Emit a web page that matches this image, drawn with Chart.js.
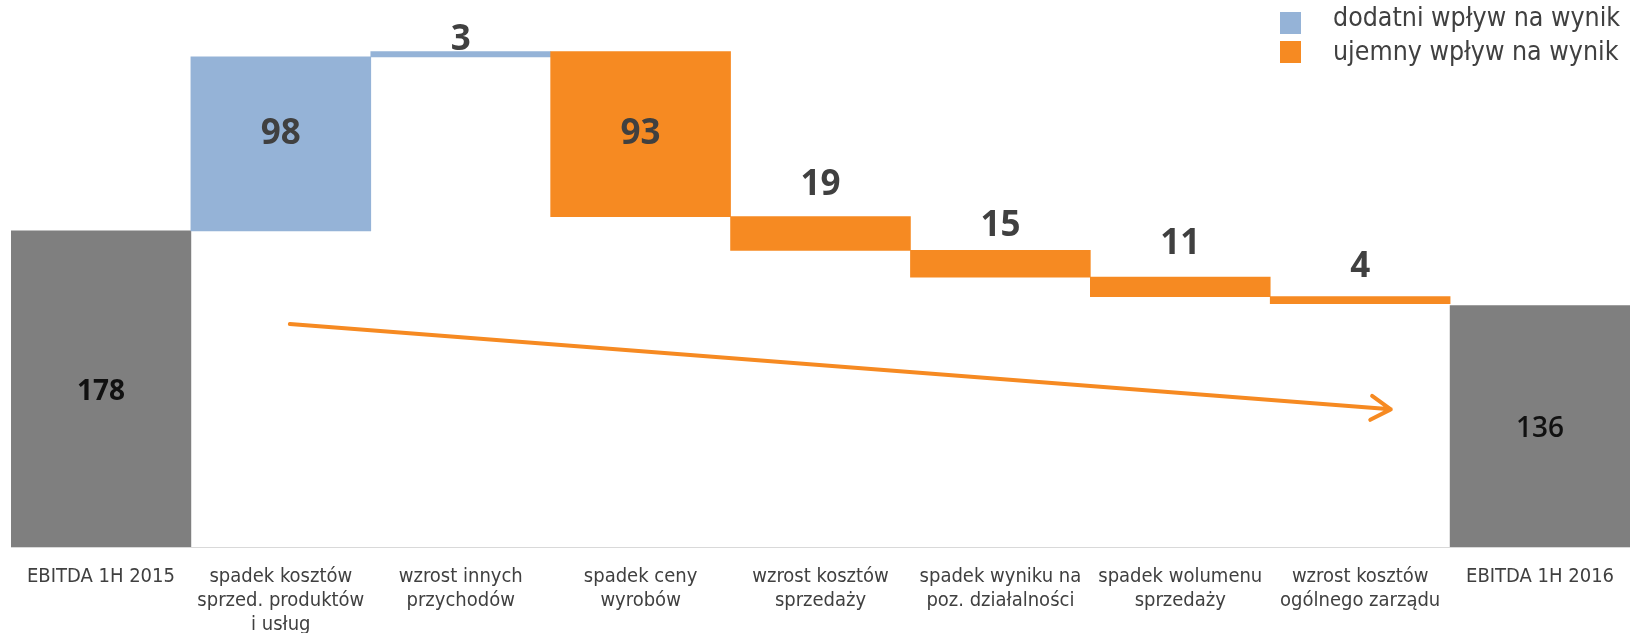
<!DOCTYPE html>
<html>
<head>
<meta charset="utf-8">
<script src="https://cdn.jsdelivr.net/npm/chart.js@4.4.1/dist/chart.umd.min.js"></script>
<style>
  html, body { margin: 0; padding: 0; background: #fff; }
  #wrap { position: relative; width: 1630px; height: 633px; }
  .sw { position: absolute; left: 1280px; width: 21px; height: 22px; }
  .txt {
    position: absolute; left: 1333px; white-space: nowrap;
    font-family: 'DejaVu Sans Condensed', 'DejaVu Sans', sans-serif;
    font-size: 26.5px; line-height: 30px; color: #404040;
  }
</style>
</head>
<body>
<div id="wrap">
  <canvas id="chart" width="1630" height="633"></canvas>
  <span class="sw" style="top:12px;background:#95b3d7"></span>
  <span class="txt" style="top:2px">dodatni wpływ na wynik</span>
  <span class="sw" style="top:41px;background:#f68a22"></span>
  <span class="txt" style="top:36px">ujemny wpływ na wynik</span>
</div>
<script>
const categories = [
    'EBITDA 1H 2015',
    ['spadek kosztów', 'sprzed. produktów', 'i usług'],
    ['wzrost innych', 'przychodów'],
    ['spadek ceny', 'wyrobów'],
    ['wzrost kosztów', 'sprzedaży'],
    ['spadek wyniku na', 'poz. działalności'],
    ['spadek wolumenu', 'sprzedaży'],
    ['wzrost kosztów', 'ogólnego zarządu'],
    'EBITDA 1H 2016',
];
const startValue = 178;
const changes = [98, 3, -93, -19, -15, -11, -4];
const endValue = 136;

// strzałka trendu (indeks kategorii, wartość)
const arrowFrom = [1.05, 125.5];
const arrowTo = [7.17, 77.5];

const GRAY = '#7f7f7f';
const BLUE = '#95b3d7';
const ORANGE = '#f68a22';
const TEXT = '#404040';

// przesunięcie etykiet (px): w środku słupka względem środka, nad słupkiem odstęp
const labelShift = [3, -10, 2, -0.5, 22, 14, 23, 20, 3];

const ranges = [[0, startValue]];
const colors = [GRAY];
const labels = [String(startValue)];
let level = startValue;
changes.forEach((d) => {
    ranges.push([level, level + d]);
    colors.push(d >= 0 ? BLUE : ORANGE);
    labels.push(String(Math.abs(d)));
    level += d;
});
ranges.push([0, endValue]);
colors.push(GRAY);
labels.push(String(endValue));

const valueLabels = {
    id: 'valueLabels',
    afterDatasetsDraw(chart) {
        const { ctx } = chart;
        const meta = chart.getDatasetMeta(0);
        ctx.save();
        ctx.textAlign = 'center';
        meta.data.forEach((bar, i) => {
            const top = Math.min(bar.y, bar.base);
            const bottom = Math.max(bar.y, bar.base);
            const h = bottom - top;
            const total = i === 0 || i === meta.data.length - 1;
            if (total) {
                ctx.fillStyle = '#111';
                ctx.font = (i === 0 ? 'bold ' : '600 ') + '28px "Open Sans"';
                ctx.textBaseline = 'middle';
                ctx.fillText(labels[i], bar.x, top + h / 2 + labelShift[i]);
            } else if (h > 60) {
                ctx.fillStyle = TEXT;
                ctx.font = 'bold 35px "Open Sans"';
                ctx.textBaseline = 'middle';
                ctx.fillText(labels[i], bar.x, top + h / 2 + labelShift[i]);
            } else {
                ctx.fillStyle = TEXT;
                ctx.font = 'bold 35px "Open Sans"';
                ctx.textBaseline = 'alphabetic';
                ctx.fillText(labels[i], bar.x, top - labelShift[i]);
            }
        });
        ctx.restore();
    },
};

const trendArrow = {
    id: 'trendArrow',
    afterDatasetsDraw(chart) {
        const { ctx, scales } = chart;
        const x1 = scales.x.getPixelForValue(arrowFrom[0]);
        const y1 = scales.y.getPixelForValue(arrowFrom[1]);
        const x2 = scales.x.getPixelForValue(arrowTo[0]);
        const y2 = scales.y.getPixelForValue(arrowTo[1]);
        const ang = Math.atan2(y2 - y1, x2 - x1);
        const head = 23;
        ctx.save();
        ctx.strokeStyle = ORANGE;
        ctx.lineWidth = 4;
        ctx.lineCap = 'round';
        ctx.lineJoin = 'round';
        ctx.beginPath();
        ctx.moveTo(x1, y1);
        ctx.lineTo(x2, y2);
        ctx.moveTo(x2 - head * Math.cos(ang - 0.55), y2 - head * Math.sin(ang - 0.55));
        ctx.lineTo(x2, y2);
        ctx.lineTo(x2 - head * Math.cos(ang + 0.55), y2 - head * Math.sin(ang + 0.55));
        ctx.stroke();
        ctx.restore();
    },
};

new Chart(document.getElementById('chart'), {
    type: 'bar',
    data: {
        labels: categories,
        datasets: [{
            data: ranges,
            backgroundColor: colors,
            borderWidth: 0,
            barPercentage: 1,
            categoryPercentage: 1,
        }],
    },
    options: {
        responsive: false,
        animation: false,
        layout: { padding: { left: 11, right: 0, top: 0, bottom: 0 } },
        plugins: {
            legend: { display: false },
            tooltip: { enabled: false },
        },
        scales: {
            x: {
                grid: { display: false },
                border: { color: '#d9d9d9', width: 1 },
                ticks: {
                    color: TEXT,
                    font: { family: '"DejaVu Sans Condensed"', size: 20, lineHeight: 1.2 },
                    padding: 10,
                    maxRotation: 0,
                    autoSkip: false,
                },
                afterFit(scale) { scale.height = 86; },
            },
            y: {
                display: false,
                min: 0,
                max: 308,
            },
        },
    },
    plugins: [valueLabels, trendArrow],
});
</script>
</body>
</html>
